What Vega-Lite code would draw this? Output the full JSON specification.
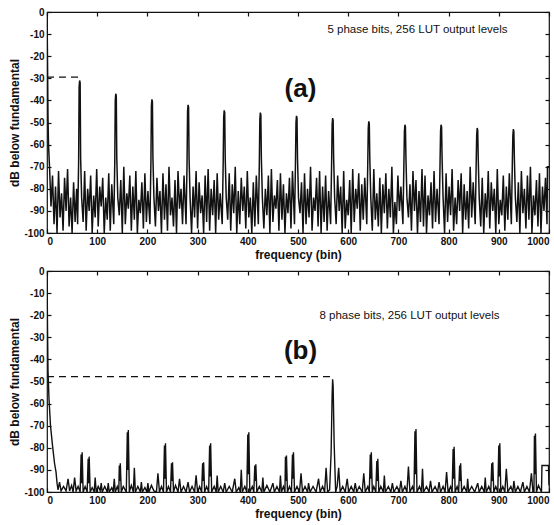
{
"$schema": "https://vega.github.io/schema/vega-lite/v6.json",
"background": "white",
"padding": {"left": 8, "top": 6, "right": 2, "bottom": 2},
"spacing": 4,
"config": {
  "view": {"stroke": "#111", "strokeWidth": 1.2},
  "axis": {"grid": false, "domain": false, "tickColor": "#111", "tickSize": -4, "tickWidth": 1.2, "labelPadding": 7,
    "labelFont": "Liberation Sans", "labelFontWeight": "bold", "labelFontSize": 10, "labelColor": "#111",
    "titleFont": "Liberation Sans", "titleFontWeight": "bold", "titleFontSize": 12, "titleColor": "#111"}
},
"datasets": {
"a": [
{"f":0,"v":0},{"f":1,"v":-22},{"f":2,"v":-48},{"f":3,"v":-60},{"f":5,"v":-70},
{"f":8,"v":-88},{"f":11,"v":-74},{"f":14,"v":-96},{"f":17,"v":-79},{"f":20,"v":-100},{"f":23,"v":-72},{"f":26,"v":-93},{"f":29,"v":-82},{"f":32,"v":-99},{"f":35,"v":-75},{"f":38,"v":-90},{"f":41,"v":-71},{"f":44,"v":-97},{"f":47,"v":-84},{"f":50,"v":-100},{"f":53,"v":-77},{"f":56,"v":-95},{"f":59,"v":-80},
{"f":61,"v":-96},{"f":63,"v":-68},{"f":64,"v":-34},{"f":65,"v":-31},{"f":66,"v":-32},{"f":67,"v":-66},{"f":69,"v":-84},
{"f":72,"v":-95},{"f":75,"v":-72},{"f":78,"v":-99},{"f":81,"v":-80},{"f":84,"v":-90},{"f":87,"v":-74},{"f":90,"v":-100},{"f":93,"v":-83},{"f":96,"v":-93},{"f":99,"v":-71},{"f":102,"v":-97},{"f":105,"v":-79},{"f":108,"v":-88},{"f":111,"v":-75},{"f":114,"v":-100},{"f":117,"v":-84},{"f":120,"v":-94},{"f":123,"v":-73},{"f":126,"v":-99},{"f":129,"v":-78},
{"f":133,"v":-96},{"f":135,"v":-68},{"f":136,"v":-40},{"f":137,"v":-37},{"f":138,"v":-38},{"f":139,"v":-66},{"f":141,"v":-84},
{"f":144,"v":-92},{"f":147,"v":-76},{"f":150,"v":-100},{"f":153,"v":-70},{"f":156,"v":-96},{"f":159,"v":-82},{"f":162,"v":-89},{"f":165,"v":-74},{"f":168,"v":-99},{"f":171,"v":-79},{"f":174,"v":-94},{"f":177,"v":-72},{"f":180,"v":-100},{"f":183,"v":-85},{"f":186,"v":-91},{"f":189,"v":-77},{"f":192,"v":-98},{"f":195,"v":-73},{"f":198,"v":-95},{"f":201,"v":-81},
{"f":205,"v":-96},{"f":207,"v":-68},{"f":208,"v":-42.5},{"f":209,"v":-39.5},{"f":210,"v":-40.5},{"f":211,"v":-66},{"f":213,"v":-84},
{"f":216,"v":-97},{"f":219,"v":-75},{"f":222,"v":-90},{"f":225,"v":-81},{"f":228,"v":-100},{"f":231,"v":-73},{"f":234,"v":-94},{"f":237,"v":-78},{"f":240,"v":-99},{"f":243,"v":-70},{"f":246,"v":-92},{"f":249,"v":-84},{"f":252,"v":-97},{"f":255,"v":-76},{"f":258,"v":-100},{"f":261,"v":-72},{"f":264,"v":-89},{"f":267,"v":-80},{"f":270,"v":-96},{"f":273,"v":-74},
{"f":277,"v":-96},{"f":279,"v":-68},{"f":280,"v":-45},{"f":281,"v":-42},{"f":282,"v":-43},{"f":283,"v":-66},{"f":285,"v":-84},
{"f":288,"v":-100},{"f":291,"v":-79},{"f":294,"v":-93},{"f":297,"v":-72},{"f":300,"v":-98},{"f":303,"v":-77},{"f":306,"v":-91},{"f":309,"v":-83},{"f":312,"v":-100},{"f":315,"v":-74},{"f":318,"v":-95},{"f":321,"v":-71},{"f":324,"v":-99},{"f":327,"v":-80},{"f":330,"v":-92},{"f":333,"v":-76},{"f":336,"v":-100},{"f":339,"v":-73},{"f":342,"v":-94},{"f":345,"v":-82},
{"f":349,"v":-96},{"f":351,"v":-68},{"f":352,"v":-47.5},{"f":353,"v":-44.5},{"f":354,"v":-45.5},{"f":355,"v":-66},{"f":357,"v":-84},
{"f":360,"v":-94},{"f":363,"v":-73},{"f":366,"v":-99},{"f":369,"v":-78},{"f":372,"v":-91},{"f":375,"v":-70},{"f":378,"v":-100},{"f":381,"v":-81},{"f":384,"v":-96},{"f":387,"v":-75},{"f":390,"v":-90},{"f":393,"v":-79},{"f":396,"v":-98},{"f":399,"v":-72},{"f":402,"v":-93},{"f":405,"v":-84},{"f":408,"v":-100},{"f":411,"v":-77},{"f":414,"v":-97},{"f":417,"v":-74},
{"f":421,"v":-96},{"f":423,"v":-68},{"f":424,"v":-48.5},{"f":425,"v":-45.5},{"f":426,"v":-46.5},{"f":427,"v":-66},{"f":429,"v":-84},
{"f":432,"v":-98},{"f":435,"v":-80},{"f":438,"v":-92},{"f":441,"v":-74},{"f":444,"v":-100},{"f":447,"v":-71},{"f":450,"v":-95},{"f":453,"v":-83},{"f":456,"v":-89},{"f":459,"v":-76},{"f":462,"v":-99},{"f":465,"v":-73},{"f":468,"v":-94},{"f":471,"v":-78},{"f":474,"v":-100},{"f":477,"v":-82},{"f":480,"v":-91},{"f":483,"v":-75},{"f":486,"v":-98},{"f":489,"v":-72},
{"f":493,"v":-96},{"f":495,"v":-68},{"f":496,"v":-50},{"f":497,"v":-47},{"f":498,"v":-48},{"f":499,"v":-66},{"f":501,"v":-84},
{"f":504,"v":-91},{"f":507,"v":-77},{"f":510,"v":-100},{"f":513,"v":-73},{"f":516,"v":-96},{"f":519,"v":-80},{"f":522,"v":-93},{"f":525,"v":-70},{"f":528,"v":-99},{"f":531,"v":-84},{"f":534,"v":-90},{"f":537,"v":-75},{"f":540,"v":-97},{"f":543,"v":-72},{"f":546,"v":-100},{"f":549,"v":-79},{"f":552,"v":-95},{"f":555,"v":-74},{"f":558,"v":-99},{"f":561,"v":-81},
{"f":565,"v":-96},{"f":567,"v":-68},{"f":568,"v":-51},{"f":569,"v":-48},{"f":570,"v":-49},{"f":571,"v":-66},{"f":573,"v":-84},
{"f":576,"v":-96},{"f":579,"v":-74},{"f":582,"v":-90},{"f":585,"v":-79},{"f":588,"v":-100},{"f":591,"v":-72},{"f":594,"v":-98},{"f":597,"v":-85},{"f":600,"v":-92},{"f":603,"v":-76},{"f":606,"v":-100},{"f":609,"v":-71},{"f":612,"v":-95},{"f":615,"v":-80},{"f":618,"v":-89},{"f":621,"v":-73},{"f":624,"v":-99},{"f":627,"v":-78},{"f":630,"v":-94},{"f":633,"v":-75},
{"f":637,"v":-96},{"f":639,"v":-68},{"f":640,"v":-52.5},{"f":641,"v":-49.5},{"f":642,"v":-50.5},{"f":643,"v":-66},{"f":645,"v":-84},
{"f":648,"v":-99},{"f":651,"v":-71},{"f":654,"v":-94},{"f":657,"v":-82},{"f":660,"v":-97},{"f":663,"v":-75},{"f":666,"v":-100},{"f":669,"v":-78},{"f":672,"v":-91},{"f":675,"v":-73},{"f":678,"v":-98},{"f":681,"v":-80},{"f":684,"v":-93},{"f":687,"v":-70},{"f":690,"v":-100},{"f":693,"v":-86},{"f":696,"v":-96},{"f":699,"v":-74},{"f":702,"v":-90},{"f":705,"v":-79},
{"f":709,"v":-96},{"f":711,"v":-68},{"f":712,"v":-54},{"f":713,"v":-51},{"f":714,"v":-52},{"f":715,"v":-66},{"f":717,"v":-84},
{"f":720,"v":-93},{"f":723,"v":-78},{"f":726,"v":-99},{"f":729,"v":-72},{"f":732,"v":-90},{"f":735,"v":-76},{"f":738,"v":-100},{"f":741,"v":-81},{"f":744,"v":-95},{"f":747,"v":-71},{"f":750,"v":-97},{"f":753,"v":-74},{"f":756,"v":-100},{"f":759,"v":-83},{"f":762,"v":-92},{"f":765,"v":-77},{"f":768,"v":-98},{"f":771,"v":-72},{"f":774,"v":-95},{"f":777,"v":-80},
{"f":781,"v":-96},{"f":783,"v":-68},{"f":784,"v":-54},{"f":785,"v":-51},{"f":786,"v":-52},{"f":787,"v":-66},{"f":789,"v":-84},
{"f":792,"v":-100},{"f":795,"v":-73},{"f":798,"v":-95},{"f":801,"v":-79},{"f":804,"v":-92},{"f":807,"v":-71},{"f":810,"v":-99},{"f":813,"v":-84},{"f":816,"v":-96},{"f":819,"v":-76},{"f":822,"v":-90},{"f":825,"v":-73},{"f":828,"v":-100},{"f":831,"v":-78},{"f":834,"v":-94},{"f":837,"v":-81},{"f":840,"v":-98},{"f":843,"v":-70},{"f":846,"v":-93},{"f":849,"v":-77},
{"f":853,"v":-96},{"f":855,"v":-68},{"f":856,"v":-55.5},{"f":857,"v":-52.5},{"f":858,"v":-53.5},{"f":859,"v":-66},{"f":861,"v":-84},
{"f":864,"v":-97},{"f":867,"v":-75},{"f":870,"v":-100},{"f":873,"v":-82},{"f":876,"v":-93},{"f":879,"v":-72},{"f":882,"v":-98},{"f":885,"v":-77},{"f":888,"v":-90},{"f":891,"v":-80},{"f":894,"v":-100},{"f":897,"v":-71},{"f":900,"v":-96},{"f":903,"v":-85},{"f":906,"v":-92},{"f":909,"v":-74},{"f":912,"v":-99},{"f":915,"v":-79},{"f":918,"v":-94},{"f":921,"v":-73},
{"f":925,"v":-96},{"f":927,"v":-68},{"f":928,"v":-56},{"f":929,"v":-53},{"f":930,"v":-54},{"f":931,"v":-66},{"f":933,"v":-84},
{"f":936,"v":-95},{"f":939,"v":-77},{"f":942,"v":-100},{"f":945,"v":-72},{"f":948,"v":-91},{"f":951,"v":-80},{"f":954,"v":-98},{"f":957,"v":-74},{"f":960,"v":-94},{"f":963,"v":-70},{"f":966,"v":-100},{"f":969,"v":-83},{"f":972,"v":-92},{"f":975,"v":-76},{"f":978,"v":-97},{"f":981,"v":-73},{"f":984,"v":-100},{"f":987,"v":-79},{"f":990,"v":-90},{"f":993,"v":-75},{"f":996,"v":-96},
{"f":997,"v":-70},{"f":1000,"v":-70}
],
"b": [
{"f":0,"v":0},{"f":1,"v":-25},{"f":2,"v":-45},{"f":4,"v":-58},{"f":7,"v":-70},{"f":11,"v":-79},{"f":15,"v":-87},{"f":18,"v":-91},{"f":20,"v":-96},{"f":22,"v":-99},
{"f":25,"v":-95.5},{"f":28,"v":-99.5},{"f":33,"v":-97.5},{"f":38,"v":-99.5},{"f":42,"v":-94},{"f":45,"v":-99.5},{"f":49,"v":-97},{"f":52,"v":-100},{"f":55,"v":-93.5},{"f":58,"v":-99.5},{"f":62,"v":-97.5},
{"f":66,"v":-100},{"f":68,"v":-83},{"f":69,"v":-96},{"f":70,"v":-82},{"f":72,"v":-100},{"f":76,"v":-97.5},
{"f":80,"v":-100},{"f":82,"v":-85},{"f":83,"v":-96},{"f":84,"v":-84},{"f":86,"v":-100},{"f":90,"v":-98},
{"f":94,"v":-100},{"f":96,"v":-93.5},{"f":98,"v":-100},{"f":102,"v":-97.5},{"f":106,"v":-99.5},{"f":108,"v":-96},{"f":110,"v":-100},{"f":115,"v":-97.5},{"f":120,"v":-100},{"f":122,"v":-96},{"f":124,"v":-100},{"f":129,"v":-98},{"f":132,"v":-100},{"f":134,"v":-94},{"f":136,"v":-100},{"f":140,"v":-97.5},
{"f":143,"v":-100},{"f":144,"v":-88},{"f":145,"v":-95},{"f":146,"v":-87},{"f":148,"v":-100},{"f":152,"v":-97.5},
{"f":158,"v":-100},{"f":160,"v":-73},{"f":161,"v":-90},{"f":162,"v":-72},{"f":164,"v":-100},
{"f":168,"v":-97},{"f":172,"v":-100},{"f":174,"v":-89},{"f":176,"v":-100},{"f":181,"v":-97.5},{"f":186,"v":-100},{"f":188,"v":-95.5},{"f":190,"v":-100},{"f":195,"v":-98},{"f":199,"v":-100},{"f":201,"v":-96},{"f":203,"v":-100},{"f":208,"v":-97},{"f":213,"v":-99.5},{"f":218,"v":-100},{"f":221,"v":-91.5},{"f":224,"v":-100},{"f":228,"v":-97.5},
{"f":232,"v":-100},{"f":234,"v":-79},{"f":235,"v":-94},{"f":236,"v":-78},{"f":238,"v":-100},{"f":242,"v":-97.5},
{"f":246,"v":-100},{"f":248,"v":-87},{"f":249,"v":-95},{"f":250,"v":-86.5},{"f":252,"v":-100},
{"f":256,"v":-97},{"f":261,"v":-100},{"f":264,"v":-94},{"f":267,"v":-100},{"f":272,"v":-97.5},{"f":277,"v":-100},{"f":281,"v":-95.5},{"f":284,"v":-100},{"f":289,"v":-97.5},{"f":294,"v":-100},{"f":297,"v":-92.5},{"f":300,"v":-100},{"f":304,"v":-97.5},
{"f":308,"v":-100},{"f":310,"v":-87},{"f":311,"v":-95},{"f":312,"v":-86.5},{"f":314,"v":-100},{"f":318,"v":-97.5},
{"f":322,"v":-100},{"f":324,"v":-79},{"f":325,"v":-93},{"f":326,"v":-78},{"f":328,"v":-100},
{"f":333,"v":-97.5},{"f":337,"v":-100},{"f":339,"v":-92.5},{"f":341,"v":-100},{"f":346,"v":-97.5},{"f":351,"v":-100},{"f":354,"v":-96},{"f":357,"v":-100},{"f":363,"v":-97.5},{"f":369,"v":-100},{"f":374,"v":-94},{"f":377,"v":-100},{"f":382,"v":-98},{"f":385,"v":-100},{"f":387,"v":-90},{"f":389,"v":-100},{"f":394,"v":-97.5},
{"f":398,"v":-100},{"f":400,"v":-74},{"f":401,"v":-92},{"f":402,"v":-73},{"f":404,"v":-100},{"f":409,"v":-97.5},
{"f":412,"v":-100},{"f":414,"v":-88},{"f":415,"v":-95},{"f":416,"v":-87.5},{"f":418,"v":-100},
{"f":423,"v":-97.5},{"f":428,"v":-100},{"f":430,"v":-93.5},{"f":432,"v":-100},{"f":438,"v":-97},{"f":444,"v":-100},{"f":450,"v":-96},{"f":453,"v":-100},{"f":458,"v":-97.5},{"f":463,"v":-100},{"f":465,"v":-92.5},{"f":467,"v":-100},{"f":471,"v":-97.5},
{"f":474,"v":-100},{"f":475,"v":-84},{"f":476,"v":-95},{"f":477,"v":-83.5},{"f":479,"v":-100},{"f":483,"v":-97.5},
{"f":487,"v":-100},{"f":489,"v":-83},{"f":490,"v":-94},{"f":491,"v":-82},{"f":493,"v":-100},
{"f":498,"v":-97.5},{"f":503,"v":-100},{"f":506,"v":-91.5},{"f":509,"v":-100},{"f":514,"v":-97.5},{"f":519,"v":-100},{"f":521,"v":-96},{"f":524,"v":-100},{"f":530,"v":-97.5},{"f":536,"v":-100},{"f":541,"v":-94},{"f":544,"v":-100},{"f":549,"v":-97.5},{"f":553,"v":-100},{"f":556,"v":-89},{"f":559,"v":-100},
{"f":563,"v":-99},{"f":566,"v":-82},{"f":568,"v":-56},{"f":569,"v":-49},{"f":570,"v":-52},{"f":572,"v":-78},{"f":575,"v":-100},
{"f":578,"v":-97.5},{"f":581,"v":-89},{"f":584,"v":-100},{"f":589,"v":-97.5},{"f":594,"v":-100},{"f":598,"v":-94},{"f":601,"v":-100},{"f":606,"v":-97.5},{"f":611,"v":-100},{"f":614,"v":-96},{"f":617,"v":-100},{"f":622,"v":-97.5},{"f":628,"v":-100},{"f":631,"v":-91.5},{"f":634,"v":-100},{"f":639,"v":-97.5},
{"f":642,"v":-100},{"f":644,"v":-83},{"f":645,"v":-94},{"f":646,"v":-82},{"f":648,"v":-100},{"f":651,"v":-97.5},
{"f":655,"v":-100},{"f":657,"v":-86},{"f":658,"v":-95},{"f":659,"v":-85},{"f":661,"v":-100},
{"f":665,"v":-97.5},{"f":670,"v":-100},{"f":672,"v":-92.5},{"f":674,"v":-100},{"f":680,"v":-97.5},{"f":685,"v":-100},{"f":688,"v":-96},{"f":691,"v":-100},{"f":697,"v":-97.5},{"f":702,"v":-100},{"f":705,"v":-95},{"f":708,"v":-100},{"f":713,"v":-97.5},{"f":717,"v":-100},{"f":720,"v":-88.5},{"f":723,"v":-100},{"f":728,"v":-97.5},
{"f":731,"v":-100},{"f":733,"v":-72.5},{"f":734,"v":-92},{"f":735,"v":-71.5},{"f":737,"v":-100},
{"f":742,"v":-97.5},{"f":746,"v":-100},{"f":748,"v":-89.5},{"f":750,"v":-100},{"f":756,"v":-97.5},{"f":761,"v":-100},{"f":764,"v":-95},{"f":767,"v":-100},{"f":773,"v":-97.5},{"f":778,"v":-100},{"f":781,"v":-95.5},{"f":784,"v":-100},{"f":789,"v":-97.5},{"f":793,"v":-100},{"f":796,"v":-91},{"f":799,"v":-100},{"f":804,"v":-97.5},
{"f":807,"v":-100},{"f":809,"v":-80.5},{"f":810,"v":-94},{"f":811,"v":-79.5},{"f":813,"v":-100},{"f":817,"v":-97.5},
{"f":820,"v":-100},{"f":822,"v":-88},{"f":823,"v":-95},{"f":824,"v":-87},{"f":826,"v":-100},
{"f":831,"v":-97.5},{"f":836,"v":-100},{"f":838,"v":-94},{"f":840,"v":-100},{"f":846,"v":-97.5},{"f":852,"v":-100},{"f":858,"v":-96},{"f":861,"v":-100},{"f":866,"v":-97.5},{"f":871,"v":-100},{"f":873,"v":-93.5},{"f":875,"v":-100},{"f":880,"v":-97.5},
{"f":884,"v":-100},{"f":886,"v":-87},{"f":887,"v":-95},{"f":888,"v":-86.5},{"f":890,"v":-100},{"f":894,"v":-97.5},
{"f":898,"v":-100},{"f":900,"v":-79},{"f":901,"v":-93},{"f":902,"v":-78},{"f":904,"v":-100},
{"f":908,"v":-97.5},{"f":912,"v":-100},{"f":915,"v":-89.5},{"f":918,"v":-100},{"f":924,"v":-97.5},{"f":928,"v":-100},{"f":930,"v":-95},{"f":933,"v":-100},{"f":938,"v":-97.5},{"f":943,"v":-100},{"f":948,"v":-95.5},{"f":951,"v":-100},{"f":956,"v":-97.5},{"f":961,"v":-100},{"f":965,"v":-91.5},{"f":968,"v":-100},
{"f":970,"v":-100},{"f":971,"v":-74.5},{"f":972,"v":-92},{"f":973,"v":-73.5},{"f":975,"v":-100},
{"f":979,"v":-97},{"f":985,"v":-100},{"f":986,"v":-88},{"f":999,"v":-88},{"f":1000,"v":-97}
],
"da": [{"f":0,"v":-29.5},{"f":63,"v":-29.5}],
"db": [{"f":0,"v":-47.8},{"f":566,"v":-47.8}]
},
"vconcat": [
{
  "width": 502, "height": 221,
  "layer": [
    {"data": {"name": "a"},
     "mark": {"type": "line", "color": "#111", "strokeWidth": 1.5, "clip": true},
     "encoding": {
       "x": {"field": "f", "type": "quantitative", "scale": {"domain": [0, 1000], "nice": false, "zero": false},
             "axis": {"values": [0,100,200,300,400,500,600,700,800,900,1000], "labelExpr": "'' + datum.value", "title": "frequency (bin)", "titlePadding": 3}},
       "y": {"field": "v", "type": "quantitative", "scale": {"domain": [-100, 0], "nice": false},
             "axis": {"values": [0,-10,-20,-30,-40,-50,-60,-70,-80,-90,-100], "labelExpr": "'' + datum.value", "title": "dB below fundamental", "titlePadding": 2}}
     }},
    {"data": {"name": "da"},
     "mark": {"type": "line", "color": "#111", "strokeWidth": 1.2, "strokeDash": [7, 5]},
     "encoding": {
       "x": {"field": "f", "type": "quantitative", "axis": {"orient": "top", "values": [0,100,200,300,400,500,600,700,800,900,1000], "labels": false, "title": null}},
       "y": {"field": "v", "type": "quantitative", "axis": {"orient": "right", "values": [0,-10,-20,-30,-40,-50,-60,-70,-80,-90,-100], "labels": false, "title": null}}
     }},
    {"data": {"values": [{"f": 738, "v": -8, "t": "5 phase bits, 256 LUT output levels"}]},
     "mark": {"type": "text", "font": "Liberation Sans", "fontSize": 11.5, "color": "#111"},
     "encoding": {"x": {"field": "f", "type": "quantitative", "axis": null}, "y": {"field": "v", "type": "quantitative", "axis": null}, "text": {"field": "t"}}},
    {"data": {"values": [{"f": 505, "v": -34.7, "t": "(a)"}]},
     "mark": {"type": "text", "font": "Liberation Sans", "fontSize": 26, "fontWeight": "bold", "color": "#111"},
     "encoding": {"x": {"field": "f", "type": "quantitative", "axis": null}, "y": {"field": "v", "type": "quantitative", "axis": null}, "text": {"field": "t"}}}
  ],
  "resolve": {"axis": {"x": "independent", "y": "independent"}}
},
{
  "width": 502, "height": 221,
  "layer": [
    {"data": {"name": "b"},
     "mark": {"type": "line", "color": "#111", "strokeWidth": 1.4, "clip": true},
     "encoding": {
       "x": {"field": "f", "type": "quantitative", "scale": {"domain": [0, 1000], "nice": false, "zero": false},
             "axis": {"values": [0,100,200,300,400,500,600,700,800,900,1000], "labelExpr": "'' + datum.value", "title": "frequency (bin)", "titlePadding": 3}},
       "y": {"field": "v", "type": "quantitative", "scale": {"domain": [-100, 0], "nice": false},
             "axis": {"values": [0,-10,-20,-30,-40,-50,-60,-70,-80,-90,-100], "labelExpr": "'' + datum.value", "title": "dB below fundamental", "titlePadding": 2}}
     }},
    {"data": {"name": "db"},
     "mark": {"type": "line", "color": "#111", "strokeWidth": 1.2, "strokeDash": [7, 5]},
     "encoding": {
       "x": {"field": "f", "type": "quantitative", "axis": {"orient": "top", "values": [0,100,200,300,400,500,600,700,800,900,1000], "labels": false, "title": null}},
       "y": {"field": "v", "type": "quantitative", "axis": {"orient": "right", "values": [0,-10,-20,-30,-40,-50,-60,-70,-80,-90,-100], "labels": false, "title": null}}
     }},
    {"data": {"values": [{"f": 722, "v": -20.2, "t": "8 phase bits, 256 LUT output levels"}]},
     "mark": {"type": "text", "font": "Liberation Sans", "fontSize": 11.5, "color": "#111"},
     "encoding": {"x": {"field": "f", "type": "quantitative", "axis": null}, "y": {"field": "v", "type": "quantitative", "axis": null}, "text": {"field": "t"}}},
    {"data": {"values": [{"f": 505, "v": -36, "t": "(b)"}]},
     "mark": {"type": "text", "font": "Liberation Sans", "fontSize": 26, "fontWeight": "bold", "color": "#111"},
     "encoding": {"x": {"field": "f", "type": "quantitative", "axis": null}, "y": {"field": "v", "type": "quantitative", "axis": null}, "text": {"field": "t"}}}
  ],
  "resolve": {"axis": {"x": "independent", "y": "independent"}}
}
]
}
